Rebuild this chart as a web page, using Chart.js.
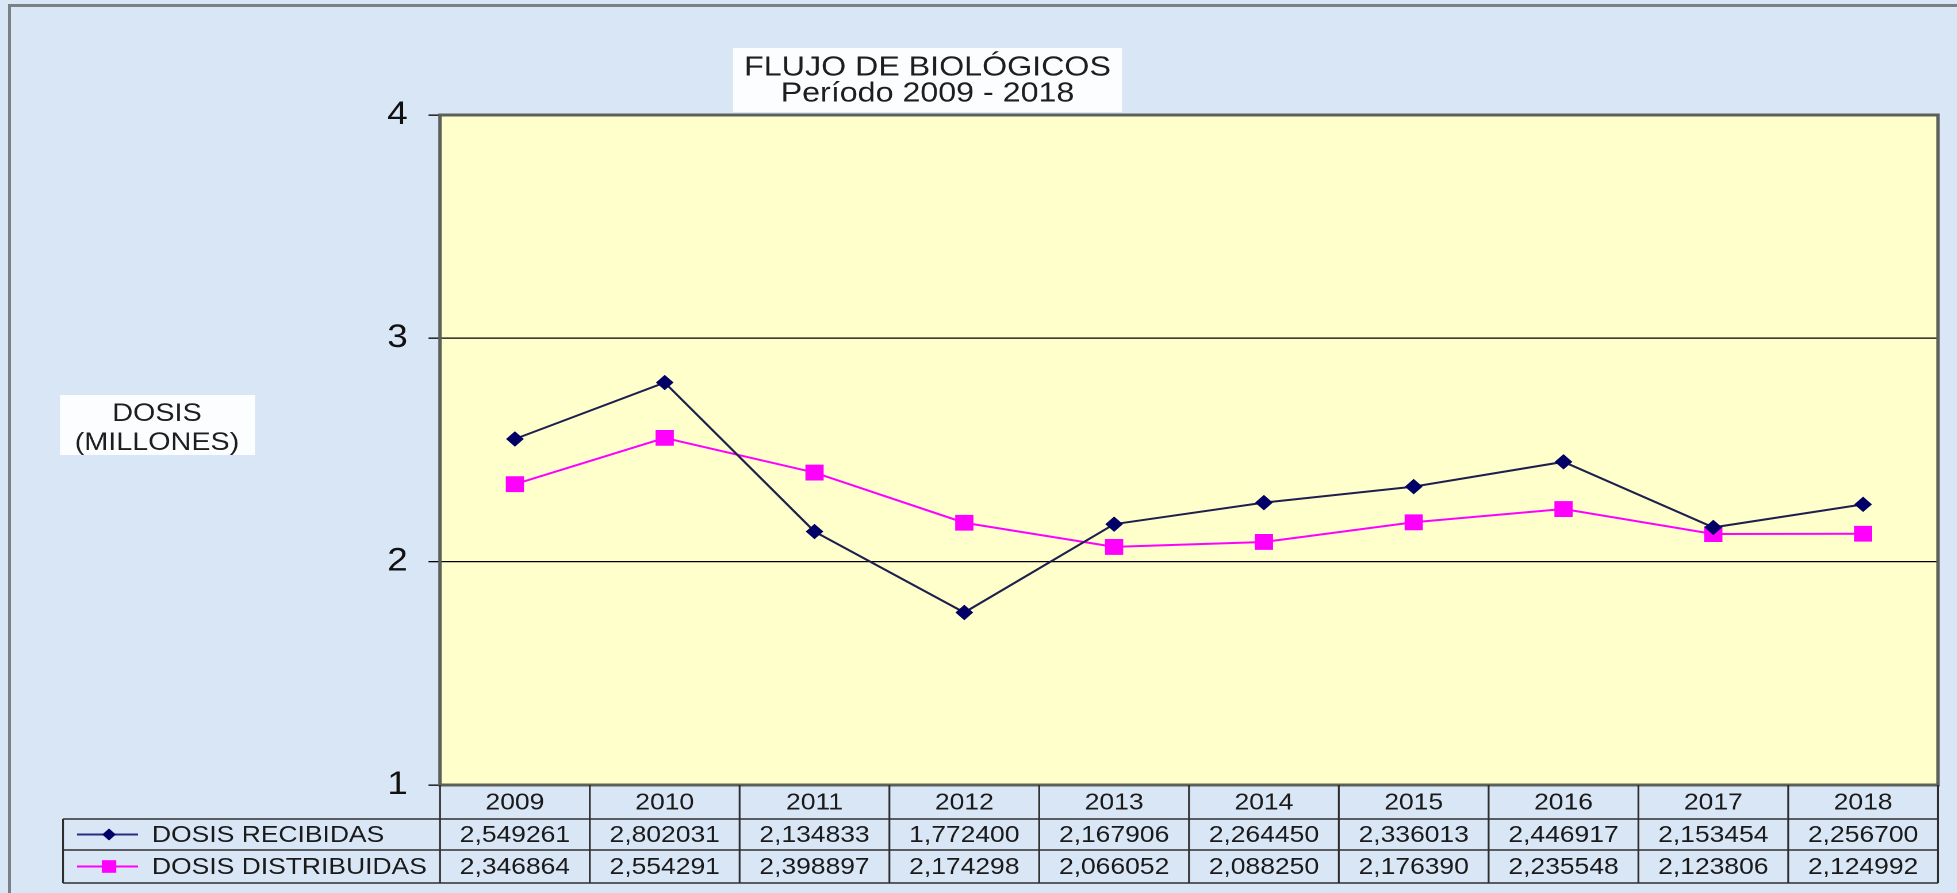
<!DOCTYPE html>
<html>
<head>
<meta charset="utf-8">
<script src="https://cdn.jsdelivr.net/npm/chart.js"></script>
<style>
  html, body { margin:0; padding:0; width:1957px; height:893px; overflow:hidden; background:#d9e6f6; }
  #frame { position:absolute; left:8px; top:4px; width:2100px; height:1000px; border-left:3px solid #7b7f86; border-top:3px solid #7b7f86; }
  #wrap { position:absolute; left:0; top:0; width:1702px; height:893px; transform:scaleX(1.15); transform-origin:0 0; }
</style>
</head>
<body>
<div id="frame"></div>
<div id="wrap"><canvas id="c" width="1702" height="893"></canvas></div>
<script>
// ---- data ----
const years = ['2009','2010','2011','2012','2013','2014','2015','2016','2017','2018'];
const recibidas = [2.549261, 2.802031, 2.134833, 1.772400, 2.167906, 2.264450, 2.336013, 2.446917, 2.153454, 2.256700];
const distribuidas = [2.346864, 2.554291, 2.398897, 2.174298, 2.066052, 2.088250, 2.176390, 2.235548, 2.123806, 2.124992];
const seriesNames = ['DOSIS RECIBIDAS', 'DOSIS DISTRIBUIDAS'];
const titleLines = ['FLUJO DE BIOLÓGICOS', 'Período 2009 - 2018'];
const yLabelLines = ['DOSIS', '(MILLONES)'];
const yMin = 1, yMax = 4, yStep = 1;

// ---- layout (canvas coordinates, horizontally stretched by SX) ----
const SX = 1.15;
const FONT = "'Liberation Sans', Arial, sans-serif";
const PLOT_LEFT = 440 / SX, PLOT_RIGHT = 1938 / SX, PLOT_TOP = 115, PLOT_BOTTOM = 785;
const CANVAS_W = 1702, CANVAS_H = 893;

function fmt(v) { return v.toFixed(6).replace('.', ','); }

const colors = [
  { line:'#1f1f4f', fill:'#000066', style:'rectRot', r:7 },
  { line:'#ff00ff', fill:'#ff00ff', style:'rect', r:10.5 }
];

function drawMarker(ctx, style, x, y, r, color) {
  ctx.save();
  ctx.fillStyle = color;
  ctx.beginPath();
  if (style === 'rectRot') {
    ctx.moveTo(x - r, y); ctx.lineTo(x, y - r); ctx.lineTo(x + r, y); ctx.lineTo(x, y + r); ctx.closePath();
  } else {
    const s = r * Math.SQRT1_2;
    ctx.rect(x - s, y - s, 2 * s, 2 * s);
  }
  ctx.fill();
  ctx.restore();
}

const decor = {
  id: 'decor',
  beforeDraw(chart) {
    const { ctx, chartArea: a } = chart;
    ctx.save();
    ctx.fillStyle = '#ffffcc';
    ctx.fillRect(a.left, a.top, a.right - a.left, a.bottom - a.top);
    ctx.restore();
  },
  afterDraw(chart) {
    const { ctx, chartArea: a } = chart;
    const xs = chart.scales.x;
    ctx.save();
    // plot border
    ctx.strokeStyle = '#5b605b';
    ctx.lineWidth = 3;
    ctx.strokeRect(a.left, a.top, a.right - a.left, a.bottom - a.top);

    // data table
    const colW = xs.getPixelForValue(1) - xs.getPixelForValue(0);
    const tLeft = 63 / SX;
    const yH = a.bottom, y1 = 819, y2 = 850, y3 = 883;
    ctx.strokeStyle = '#2e2e2e';
    ctx.lineWidth = 1.6;
    ctx.beginPath();
    [y1, y2, y3].forEach(y => { ctx.moveTo(tLeft, y); ctx.lineTo(a.right, y); });
    ctx.moveTo(tLeft, y1); ctx.lineTo(tLeft, y3);
    for (let i = 0; i <= years.length; i++) {
      const x = xs.getPixelForValue(0) - colW / 2 + i * colW;
      ctx.moveTo(x, yH); ctx.lineTo(x, y3);
    }
    ctx.stroke();

    ctx.fillStyle = '#1a1a1a';
    ctx.font = '23px ' + FONT;
    ctx.textAlign = 'center';
    ctx.textBaseline = 'middle';
    years.forEach((yr, i) => {
      const x = xs.getPixelForValue(i);
      ctx.fillText(yr, x, (yH + y1) / 2 + 1);
      ctx.fillText(fmt(recibidas[i]), x, (y1 + y2) / 2 + 1);
      ctx.fillText(fmt(distribuidas[i]), x, (y2 + y3) / 2 + 1);
    });
    // legend keys
    [[y1, y2], [y2, y3]].forEach(([ya, yb], k) => {
      const yc = (ya + yb) / 2;
      ctx.strokeStyle = colors[k].line === '#1f1f4f' ? '#2a2a80' : colors[k].line;
      ctx.lineWidth = 2;
      ctx.beginPath(); ctx.moveTo(77 / SX, yc); ctx.lineTo(138 / SX, yc); ctx.stroke();
      drawMarker(ctx, colors[k].style, 109 / SX, yc, colors[k].r * 0.85, colors[k].fill);
      ctx.fillStyle = '#1a1a1a';
      ctx.textAlign = 'left';
      ctx.fillText(seriesNames[k], 152 / SX, yc + 1);
    });

    // title box
    ctx.fillStyle = 'rgba(255,255,255,0.92)';
    ctx.fillRect(733 / SX, 48, (1122 - 733) / SX, 112 - 48);
    ctx.fillStyle = '#1e1e1e';
    ctx.font = '28px ' + FONT;
    ctx.textAlign = 'center';
    const tcx = 927.5 / SX;
    ctx.fillText(titleLines[0], tcx, 68);
    ctx.fillText(titleLines[1], tcx, 94);

    // y axis label box
    ctx.fillStyle = 'rgba(255,255,255,0.92)';
    ctx.fillRect(60 / SX, 395, (255 - 60) / SX, 455 - 395);
    ctx.fillStyle = '#1e1e1e';
    ctx.font = '25px ' + FONT;
    const ycx = 157 / SX;
    ctx.fillText(yLabelLines[0], ycx, 414);
    ctx.fillText(yLabelLines[1], ycx, 443);
    ctx.restore();
  }
};

Chart.defaults.font.family = FONT;

new Chart(document.getElementById('c'), {
  type: 'line',
  data: {
    labels: years,
    datasets: [
      { label: seriesNames[0], data: recibidas, borderColor: colors[0].line, borderWidth: 2,
        pointStyle: colors[0].style, pointRadius: colors[0].r, pointBackgroundColor: colors[0].fill,
        pointBorderColor: colors[0].fill, pointBorderWidth: 1, tension: 0, order: 1 },
      { label: seriesNames[1], data: distribuidas, borderColor: colors[1].line, borderWidth: 2,
        pointStyle: colors[1].style, pointRadius: colors[1].r, pointBackgroundColor: colors[1].fill,
        pointBorderColor: colors[1].fill, pointBorderWidth: 1, tension: 0, order: 2 }
    ]
  },
  options: {
    responsive: false,
    animation: false,
    devicePixelRatio: 2,
    layout: { padding: { top: PLOT_TOP, right: CANVAS_W - PLOT_RIGHT, bottom: 0, left: 0 } },
    plugins: { legend: { display: false }, tooltip: { enabled: false }, title: { display: false } },
    scales: {
      x: {
        type: 'category', offset: true,
        ticks: { display: false },
        grid: { display: false },
        border: { display: false },
        afterFit: s => { s.height = CANVAS_H - PLOT_BOTTOM; }
      },
      y: {
        min: yMin, max: yMax,
        ticks: { stepSize: yStep, color: '#111', padding: 18, font: { size: 32 } },
        grid: { color: '#000', lineWidth: 1.3, tickLength: 10, drawTicks: true },
        border: { display: false },
        afterFit: s => { s.width = PLOT_LEFT; }
      }
    }
  },
  plugins: [decor]
});
</script>
</body>
</html>
